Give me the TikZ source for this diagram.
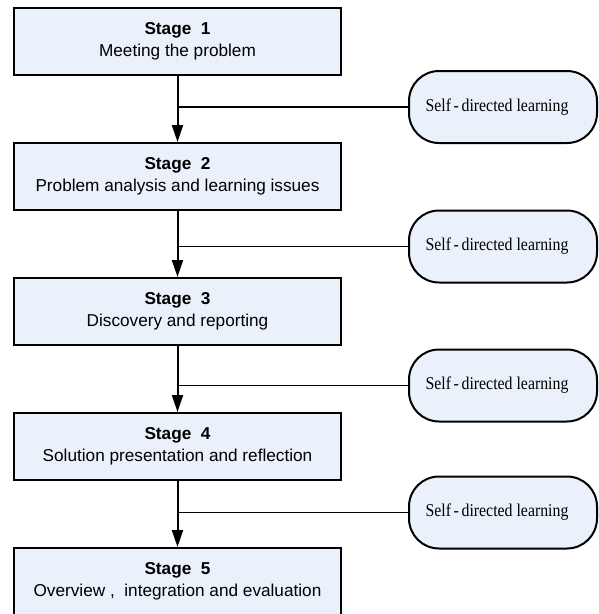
\documentclass[tikz,border=0pt]{standalone}
\usepackage{fontspec}
\setmainfont{Liberation Sans}
\newfontfamily\sdlfont{Liberation Serif}
\usetikzlibrary{arrows.meta}
\definecolor{boxfill}{RGB}{234,241,251}
\tikzset{
  stagebox/.style={draw=black, line width=2pt, fill=boxfill, minimum width=327pt, minimum height=67pt, inner sep=0pt, align=center, font=\fontsize{17.2}{22}\selectfont},
  sdlbox/.style={draw=black, line width=2pt, fill=boxfill, rounded corners=30pt, minimum width=188pt, minimum height=72pt, inner sep=0pt},
  sdltext/.style={font=\sdlfont\fontsize{18}{20}\selectfont, inner sep=0pt},
  flow/.style={line width=2pt, -{Triangle[length=17pt,width=11pt]}},
  branch/.style={line width=1.6pt}
}
\newcommand{\sdl}{\scalebox{0.88}[1]{Self\,-\,directed learning}}
\begin{document}
\begin{tikzpicture}[x=1pt,y=-1pt]
\useasboundingbox (0,0) rectangle (598,614);
\clip (0,0) rectangle (598,614);
\node[stagebox] (s1) at (177.5,41) {\textbf{Stage\ \ 1}\\Meeting the problem};
\node[stagebox] (s2) at (177.5,176.5) {\textbf{Stage\ \ 2}\\Problem analysis and learning issues};
\node[stagebox] (s3) at (177.5,311.5) {\textbf{Stage\ \ 3}\\Discovery and reporting};
\node[stagebox] (s4) at (177.5,446.5) {\textbf{Stage\ \ 4}\\Solution presentation and reflection};
\node[stagebox] (s5) at (177.5,581.5) {\textbf{Stage\ \ 5}\\Overview\ ,\ \ integration and evaluation};
\node[sdlbox] (d1) at (503,107) {};
\node[sdlbox] (d2) at (503,246.5) {};
\node[sdlbox] (d3) at (503,385.5) {};
\node[sdlbox] (d4) at (503,512.5) {};
\node[sdltext] (t1) at ([xshift=-6pt]d1.center) {\sdl};
\node[sdltext] (t2) at ([xshift=-6pt]d2.center) {\sdl};
\node[sdltext] (t3) at ([xshift=-6pt]d3.center) {\sdl};
\node[sdltext] (t4) at ([xshift=-6pt]d4.center) {\sdl};
\draw[flow] (s1.south) -- (s2.north);
\draw[flow] (s2.south) -- (s3.north);
\draw[flow] (s3.south) -- (s4.north);
\draw[flow] (s4.south) -- (s5.north);
\draw[branch] (s1.south |- d1.west) -- (d1.west);
\draw[branch] (s2.south |- d2.west) -- (d2.west);
\draw[branch] (s3.south |- d3.west) -- (d3.west);
\draw[branch] (s4.south |- d4.west) -- (d4.west);
\end{tikzpicture}
\end{document}
